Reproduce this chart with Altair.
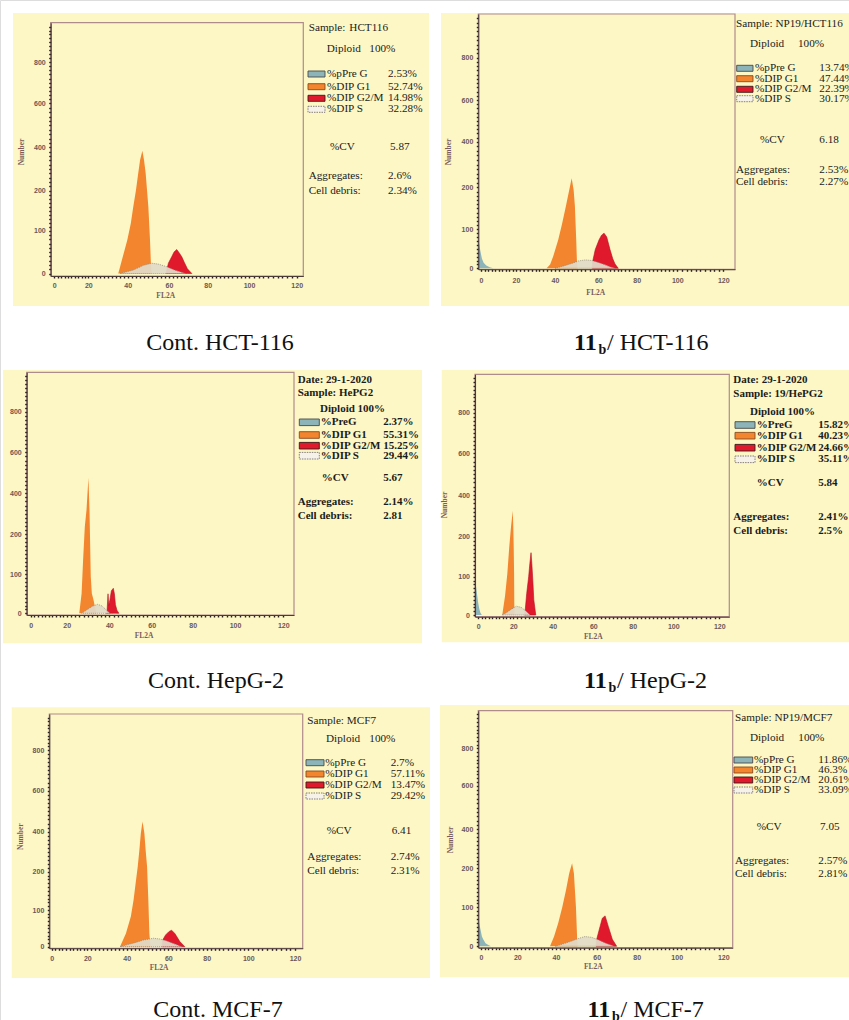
import altair as alt
import pandas as pd

W, H = 849, 1020

# ---------------- data ----------------
X_TICKS = [0, 20, 40, 60, 80, 100, 120]
Y_TICKS = [0, 100, 200, 400, 600, 800]

# pre-G (sub-G1) component: FL2A channel, number of cells
PREG_X = [[], [-2, -0.5, 0.5, 1.5, 3, 5, 7], [], [-2, -1.2, -0.6, 0, 0.6, 1.2, 2], [], [-2, -0.5, 0.5, 1.2, 2.5, 3.8, 5.5]]
PREG_Y = [[], [75, 45, 25, 14, 7, 3, 0], [], [92, 70, 49, 30, 15, 6, 0], [], [70, 45, 25, 18, 8, 4, 0]]

# G1 component
G1_X = [
    [35.2, 35.7, 37.5, 39.8, 41.5, 42.7, 44.0, 45.1, 46.0, 47.1, 47.9, 48.7, 50.0, 50.8, 51.3, 51.6],
    [35.7, 37.5, 39.1, 41.5, 43.3, 45.0, 46.6, 47.7, 48.6, 49.2, 49.5, 49.8, 50.1, 50.3],
    [25.9, 27.0, 27.7, 28.5, 29.3, 30.2, 30.7, 31.0, 31.3, 31.8, 32.6, 33.5, 34.0],
    [13.7, 15.3, 16.6, 17.7, 18.7, 19.7, 20.0, 20.2, 20.4, 20.5, 20.6],
    [36.6, 39.6, 42.0, 43.3, 44.3, 45.3, 46.1, 46.8, 47.6, 48.5, 49.1, 49.8, 50.4, 50.9, 51.3, 51.5],
    [36.9, 39.0, 41.1, 43.1, 44.9, 46.5, 47.9, 48.8, 49.3, 49.8, 50.1, 50.4, 50.6],
]
G1_Y = [
    [0, 8, 39, 78, 118, 160, 202, 280, 341, 384, 341, 280, 160, 78, 16, 0],
    [0, 10, 31, 73, 114, 154, 194, 240, 194, 154, 114, 73, 23, 0],
    [0, 51, 135, 236, 318, 476, 318, 177, 94, 51, 34, 10, 0],
    [0, 50, 108, 175, 248, 325, 248, 175, 108, 32, 0],
    [0, 36, 82, 126, 170, 225, 309, 392, 450, 392, 309, 225, 126, 36, 5, 0],
    [0, 25, 60, 101, 144, 187, 226, 187, 144, 101, 60, 18, 0],
]

# G2/M component
G2_X = [
    [58.5, 58.8, 59.7, 61.4, 62.6, 64.0, 65.3, 66.6, 68.0, 69.5, 71.8],
    [57.2, 57.5, 58.6, 60.4, 61.7, 63.0, 64.4, 66.1, 67.5, 68.7, 70.4],
    [38.5, 39.0, 39.4, 39.7, 40.3, 41.0, 41.9, 42.4, 42.9, 43.6, 44.5],
    [25.6, 26.0, 26.8, 27.8, 28.4, 29.0, 29.4, 29.9, 30.4, 31.4],
    [57.0, 57.3, 58.7, 60.3, 61.7, 63.4, 66.0, 68.6],
    [59.7, 60.0, 61.7, 62.8, 64.2, 65.8, 67.8, 70.0],
]
G2_Y = [
    [0, 5, 24, 39, 50, 56, 48, 39, 25, 11, 0],
    [0, 20, 48, 73, 85, 90, 80, 48, 25, 11, 0],
    [0, 10, 50, 20, 35, 58, 64, 50, 22, 8, 0],
    [0, 10, 56, 100, 133, 160, 133, 91, 40, 0],
    [0, 18, 32, 41, 45, 36, 14, 0],
    [0, 18, 51, 72, 78, 51, 18, 0],
]

# S-phase component
S_X = [
    [36.1, 42.7, 47.6, 51.6, 54.8, 58.8, 62.8, 68.5],
    [40, 44, 48, 51, 54, 57, 60, 63.5, 66, 68.7],
    [27.0, 29.5, 32.0, 34.5, 36.5, 38.5, 40.3],
    [13.5, 16, 18.5, 21.5, 24, 26.5, 28.5],
    [36.6, 40, 44, 48, 52.8, 56, 59, 62, 64.5, 67],
    [39.7, 44, 48, 51, 54.2, 57.5, 61, 64.5, 68.8],
]
S_Y = [
    [0, 8, 19, 24, 22, 16, 8, 0],
    [0, 6, 13, 19, 21.5, 20, 15, 9, 4, 0],
    [0, 9, 18, 23, 19, 9, 0],
    [0, 6, 14, 23, 20, 10, 0],
    [0, 5, 11, 18, 23, 21, 16, 10, 5, 0],
    [0, 7, 14, 20, 25, 23, 16, 8, 0],
]

HEADER = [["Sample:", "HCT116"], ["Sample: NP19/HCT116"], ["Date: 29-1-2020", "Sample: HePG2"],
          ["Date: 29-1-2020", "Sample: 19/HePG2"], ["Sample: MCF7"], ["Sample: NP19/MCF7"]]
DIPLOID = [["Diploid", "100%"], ["Diploid", "100%"], ["Diploid 100%"], ["Diploid 100%"],
           ["Diploid", "100%"], ["Diploid", "100%"]]
PHASE_LABELS = [
    ["%pPre G", "%DIP G1", "%DIP G2/M", "%DIP S"],
    ["%pPre G", "%DIP G1", "%DIP G2/M", "%DIP S"],
    ["%PreG", "%DIP G1", "%DIP G2/M", "%DIP S"],
    ["%PreG", "%DIP G1", "%DIP G2/M", "%DIP S"],
    ["%pPre G", "%DIP G1", "%DIP G2/M", "%DIP S"],
    ["%pPre G", "%DIP G1", "%DIP G2/M", "%DIP S"],
]
PHASE_PCT = [
    ["2.53%", "52.74%", "14.98%", "32.28%"],
    ["13.74%", "47.44%", "22.39%", "30.17%"],
    ["2.37%", "55.31%", "15.25%", "29.44%"],
    ["15.82%", "40.23%", "24.66%", "35.11%"],
    ["2.7%", "57.11%", "13.47%", "29.42%"],
    ["11.86%", "46.3%", "20.61%", "33.09%"],
]
CV_LABEL = "%CV"
CV = ["5.87", "6.18", "5.67", "5.84", "6.41", "7.05"]
AGG_LABEL = "Aggregates:"
AGG = ["2.6%", "2.53%", "2.14%", "2.41%", "2.74%", "2.57%"]
DEB_LABEL = "Cell debris:"
DEB = ["2.34%", "2.27%", "2.81", "2.5%", "2.31%", "2.81%"]
X_TITLE = "FL2A"
Y_TITLE = "Number"
CAP_CTRL = ["Cont. HCT-116", "Cont. HepG-2", "Cont. MCF-7"]
CAP_MAIN = "11"
CAP_SUB = "b"
CAP_TREAT = ["/ HCT-116", "/ HepG-2", "/ MCF-7"]

# ---------------- layout (pixel geometry of each panel) ----------------
LAY = [
    dict(box=(13, 13, 429, 306), frame=(50.7, 22.7, 303.3, 276),
         xpix=[54.3, 88.3, 127.7, 169.0, 207.7, 249.0, 296.7], ypix=[273.5, 230.7, 190.7, 147.3, 103.3, 62.0],
         xlab=285, head=[(308.7, 28), (349.3, 28)], dip=[(326.7, 49), (369.3, 49)],
         rows=[74, 86.7, 98.3, 109.3], sw=(308, 325), lab=327, val=388,
         cv=(330, 146.7), cvv=390, tx=308.7, agg=175.7, deb=190.7, val2=388,
         num=(22, 152), fl=(165.7, 296), bold=False),
    dict(box=(441, 13, 849, 306), frame=(478.3, 14, 735, 269.3),
         xpix=[481, 516, 555, 598.3, 636.7, 677.3, 723.3], ypix=[268.3, 229.3, 187.3, 141.7, 100, 57.7],
         xlab=280, head=[(736, 24)], dip=[(750, 44), (798, 44)],
         rows=[68.3, 78.7, 89.3, 98.7], sw=(736.7, 753), lab=755, val=819.3,
         cv=(760, 140), cvv=819.3, tx=736, agg=170, deb=182.3, val2=819.3,
         num=(449, 152), fl=(595.7, 293.3), bold=False),
    dict(box=(3, 370, 422, 643.3), frame=(26.7, 372.3, 294, 615),
         xpix=[30.7, 66.7, 109.3, 151.7, 192.7, 235, 283.3], ypix=[613.3, 574.3, 534, 493.3, 452.3, 411.7],
         xlab=625, head=[(297.7, 380), (297.7, 393.3)], dip=[(320, 409)],
         rows=[422.3, 435, 445.7, 455.7], sw=(299.3, 319.3), lab=320.7, val=383.3,
         cv=(321.7, 478.3), cvv=383.3, tx=297.7, agg=501.7, deb=515.7, val2=383.3,
         num=None, fl=(144, 635.7), bold=True),
    dict(box=(441.7, 370, 849, 642.3), frame=(475, 374.3, 729.3, 616.7),
         xpix=[478.3, 513.3, 552.7, 593.3, 632.7, 673.3, 719.3], ypix=[615, 576.7, 536.7, 495, 453.3, 412.7],
         xlab=625.7, head=[(733.3, 380), (733.3, 394)], dip=[(750, 411.7)],
         rows=[425, 435.7, 447.7, 459.3], sw=(735, 755), lab=756.7, val=818.3,
         cv=(756.7, 483.3), cvv=818.3, tx=733.3, agg=516.7, deb=530.7, val2=818.3,
         num=(445, 505), fl=(593.3, 637.3), bold=True),
    dict(box=(11.7, 707.3, 430, 978), frame=(49.3, 714, 302.7, 948.3),
         xpix=[51.7, 87.3, 126.7, 168.3, 206.7, 248.3, 295], ypix=[946.7, 910, 871.7, 831.7, 790.7, 750],
         xlab=958.3, head=[(307.3, 720.7)], dip=[(326, 739), (369.3, 739)],
         rows=[762.7, 774, 785, 796], sw=(306, 324), lab=325.3, val=390.7,
         cv=(326.7, 830.7), cvv=391.7, tx=307.3, agg=856.7, deb=871, val2=390.7,
         num=(20.7, 836.7), fl=(159, 968.3), bold=False),
    dict(box=(440, 705, 849, 977.3), frame=(478.3, 710.7, 732.7, 947.7),
         xpix=[481, 517.3, 556, 596.7, 636.7, 676.7, 723.3], ypix=[946.3, 907.3, 868.3, 829.3, 785.7, 748.3],
         xlab=957.3, head=[(735, 718.3)], dip=[(750, 738.3), (798.3, 738.3)],
         rows=[760, 770, 780, 790], sw=(734, 752.7), lab=754, val=818.3,
         cv=(756.7, 826.7), cvv=820, tx=735, agg=860.7, deb=874, val2=818.3,
         num=(450.7, 840), fl=(593.3, 966.7), bold=False),
]
CAP_L_POS = [(220, 350), (216, 688), (218, 1017)]
CAP_R_X = [574, 584, 587.5]

SERIF = "Liberation Serif"
SANS = "Liberation Sans"
TXT = "#1b1b1b"
AXC = "#6b5656"
YELLOW = "#fcf7c5"
FRAME = "#b08b8b"
C_PREG = "#8cb4b9"
C_G1 = "#f2852d"
C_G2 = "#e1192d"
C_S = "#e2dac8"

X_MINOR = list(range(0, 122, 2))
Y_MINOR = list(range(0, 200, 10)) + list(range(200, 1000, 20))

# ---------------- helpers ----------------
texts = []
rects = []


def add_text(x, y, s, size, weight="normal", align="left", baseline="middle", angle=0, color=TXT, font=SERIF):
    texts.append(dict(x=x, y=y, text=s, st=(font, size, weight, align, baseline, angle, color)))


def add_rect(x, y, x2, y2, fill, stroke="transparent", sw=0.0, dash=None):
    rects.append(dict(x=x, y=y, x2=x2, y2=y2, st=(fill, stroke, sw, tuple(dash) if dash else ())))


box_layers = []
area_layers = []

for p, L in enumerate(LAY):
    fx0, fy0, fx1, fy1 = L["frame"]
    bx0, by0, bx1, by1 = L["box"]
    box_layers.append(dict(x=bx0, y=by0, x2=bx1, y2=by1))
    add_rect(fx0, fy0, fx1, fy1, "transparent", FRAME, 1.2)

    xs = alt.Scale(domain=[-2] + X_TICKS + [123], range=[fx0] + L["xpix"] + [fx1], zero=False, nice=False)
    ys = alt.Scale(domain=[-6] + Y_TICKS + [1000], range=[fy1] + L["ypix"] + [fy0], zero=False, nice=False)

    xaxis = alt.Axis(orient="bottom", offset=fy1 - H, values=X_MINOR,
                     labelExpr="datum.value % 20 === 0 ? datum.label : ''",
                     title=None, grid=False, domainColor="#4b3b3b", domainWidth=1.1,
                     tickColor="#2a2020", tickSize=2, tickWidth=1.4,
                     labelFont=SANS, labelFontSize=7, labelFontWeight="bold", labelColor=AXC,
                     labelPadding=max(L["xlab"] - fy1 - 5.5, 0), labelFlush=False, labelOverlap=False, zindex=1)
    yaxis = alt.Axis(orient="left", offset=-fx0, values=Y_MINOR,
                     labelExpr="indexof([0,100,200,400,600,800], datum.value) >= 0 ? datum.label : ''",
                     title=None, grid=False, domainColor="#4b3b3b", domainWidth=1.1,
                     tickColor="#2a2020", tickSize=2, tickWidth=1.4,
                     labelFont=SANS, labelFontSize=7, labelFontWeight="bold", labelColor=AXC,
                     labelPadding=3.5, labelFlush=False, labelOverlap=False, zindex=1)

    comps = [
        (PREG_X[p], PREG_Y[p], dict(color=C_PREG, opacity=1), False),
        (G1_X[p], G1_Y[p], dict(color=C_G1, opacity=1), True),
        (G2_X[p], G2_Y[p], dict(color=C_G2, opacity=1, stroke="#b5101f", strokeWidth=0.6), False),
        (S_X[p], S_Y[p], dict(color=C_S, opacity=0.93, stroke="#8f867c", strokeWidth=0.8, strokeDash=[1, 1]), False),
    ]
    for xv, yv, style, with_axes in comps:
        if not xv:
            continue
        df = pd.DataFrame({"x": xv, "y": yv})
        area_layers.append(
            alt.Chart(df).mark_area(interpolate="linear", **style).encode(
                x=alt.X("x:Q", scale=xs, axis=xaxis if with_axes else None),
                y=alt.Y("y:Q", scale=ys, axis=yaxis if with_axes else None),
                y2=alt.datum(0),
            )
        )

    bold = L["bold"]
    fs = 11 if bold else 11.2
    fw = "bold" if bold else "normal"
    for (hx, hy), s in zip(L["head"], HEADER[p]):
        add_text(hx, hy, s, fs, fw)
    for (dx, dy), s in zip(L["dip"], DIPLOID[p]):
        add_text(dx, dy, s, fs, fw)
    sx0, sx1 = L["sw"]
    sh = 3 if not bold else 3.3
    sw_styles = [(C_PREG, "#4a4a4a", None), (C_G1, "#8a4a20", None), (C_G2, "#3a1a1a", None),
                 ("#f6f2ea", "#7a7270", [1.5, 1])]
    for ry, lab, pct, (fill, strk, dash) in zip(L["rows"], PHASE_LABELS[p], PHASE_PCT[p], sw_styles):
        add_rect(sx0, ry - sh, sx1, ry + sh, fill, strk, 0.9, dash)
        add_text(L["lab"], ry, lab, fs, fw)
        add_text(L["val"], ry, pct, fs, fw)
    add_text(L["cv"][0], L["cv"][1], CV_LABEL, fs, fw)
    add_text(L["cvv"], L["cv"][1], CV[p], fs, fw)
    add_text(L["tx"], L["agg"], AGG_LABEL, fs, fw)
    add_text(L["val2"], L["agg"], AGG[p], fs, fw)
    add_text(L["tx"], L["deb"], DEB_LABEL, fs, fw)
    add_text(L["val2"], L["deb"], DEB[p], fs, fw)
    if L["num"] is not None:
        add_text(L["num"][0], L["num"][1], Y_TITLE, 7.5, "bold", align="center", angle=270, color="#7a5c5c")
    add_text(L["fl"][0], L["fl"][1], X_TITLE, 7.5, "bold", align="center", color="#7a5c5c")

# captions
for (cx, cy), s in zip(CAP_L_POS, CAP_CTRL):
    add_text(cx, cy, s, 24, align="center", baseline="alphabetic", color="#111111")
for (cx, (_, cy)), s in zip(zip(CAP_R_X, CAP_L_POS), CAP_TREAT):
    add_text(cx, cy, CAP_MAIN, 24, "bold", baseline="alphabetic", color="#111111")
    add_text(cx + 24.5, cy + 4, CAP_SUB, 14, "bold", baseline="alphabetic", color="#111111")
    add_text(cx + 33, cy, s, 24, baseline="alphabetic", color="#111111")

# ---------------- build layers ----------------
pix_x = dict(scale=None, axis=None)
bg = alt.Chart(pd.DataFrame(box_layers)).mark_rect(color=YELLOW).encode(
    x=alt.X("x:Q", **pix_x), x2="x2:Q", y=alt.Y("y:Q", **pix_x), y2="y2:Q")

rect_layers = []
groups = {}
for r in rects:
    groups.setdefault(r["st"], []).append(r)
for (fill, stroke, swd, dash), recs in groups.items():
    df = pd.DataFrame([{k: v for k, v in r.items() if k != "st"} for r in recs])
    kw = dict(fill=fill, stroke=stroke, strokeWidth=swd)
    if dash:
        kw["strokeDash"] = list(dash)
    rect_layers.append(
        alt.Chart(df).mark_rect(**kw).encode(
            x=alt.X("x:Q", **pix_x), x2="x2:Q", y=alt.Y("y:Q", **pix_x), y2="y2:Q")
    )
frame_layers = [l for l, k in zip(rect_layers, groups.keys()) if k[0] == "transparent"]
swatch_layers = [l for l, k in zip(rect_layers, groups.keys()) if k[0] != "transparent"]

text_layers = []
tgroups = {}
for t in texts:
    tgroups.setdefault(t["st"], []).append(t)
for (font, size, weight, align, baseline, angle, color), recs in tgroups.items():
    df = pd.DataFrame([{"x": r["x"], "y": r["y"], "text": r["text"]} for r in recs])
    text_layers.append(
        alt.Chart(df).mark_text(font=font, fontSize=size, fontWeight=weight, align=align,
                                baseline=baseline, angle=angle, color=color).encode(
            x=alt.X("x:Q", **pix_x), y=alt.Y("y:Q", **pix_x), text="text:N")
    )

chart = alt.layer(bg, *frame_layers, *area_layers, *swatch_layers, *text_layers).resolve_scale(
    x="independent", y="independent").resolve_axis(x="independent", y="independent").properties(
    width=W, height=H, padding=0, autosize=alt.AutoSizeParams(type="none"),
).configure_view(stroke="transparent").configure(background="white")

chart.save("out.html", embed_options={"renderer": "svg", "actions": False})
